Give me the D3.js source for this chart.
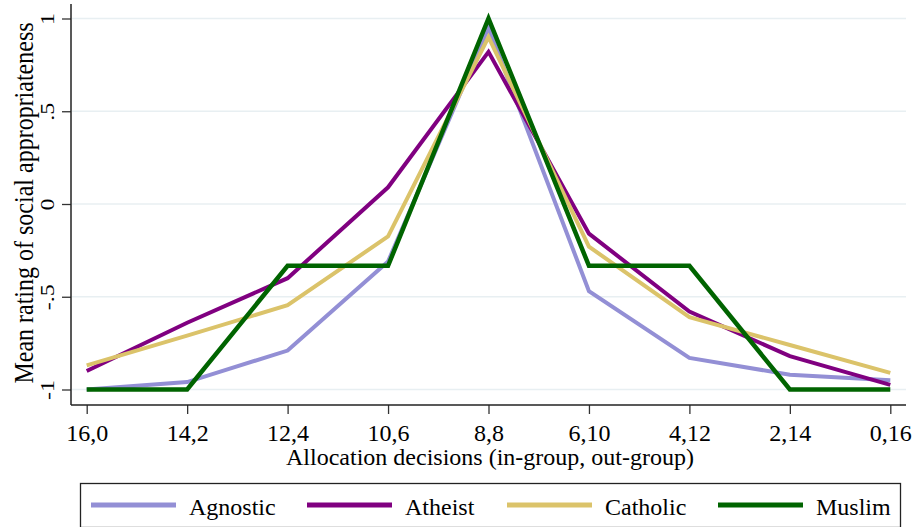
<!DOCTYPE html>
<html>
  <head>
    <title>Mean rating of social appropriateness</title>
    <script src="https://d3js.org/d3.v7.min.js"></script>
    <style>
      body { margin: 0; background: #fff; }
      text { font-family: "Liberation Serif", "DejaVu Serif", serif; fill: #000; }
    </style>
  </head>
  <body>
    <div id="chart"></div>
    <script>
      // Data
      var categories = ["16,0", "14,2", "12,4", "10,6", "8,8", "6,10", "4,12", "2,14", "0,16"];
      var yTicks = [-1, -0.5, 0, 0.5, 1];
      var yTickLabels = ["-1", "-.5", "0", ".5", "1"];
      var seriesNames = ["Agnostic", "Atheist", "Catholic", "Muslim"];
      var agnostic = [-1.0, -0.96, -0.79, -0.31, 0.95, -0.47, -0.83, -0.92, -0.95];
      var atheist = [-0.90, -0.64, -0.40, 0.09, 0.82, -0.16, -0.58, -0.82, -0.975];
      var catholic = [-0.87, -0.71, -0.545, -0.175, 0.90, -0.23, -0.61, -0.76, -0.91];
      var muslim = [-1, -1, -0.333, -0.333, 1, -0.333, -0.333, -1, -1];

      var series = [
        { name: seriesNames[0], values: agnostic, color: "#938fd5", width: 4 },
        { name: seriesNames[1], values: atheist, color: "#800080", width: 4 },
        { name: seriesNames[2], values: catholic, color: "#dbc36a", width: 4 },
        { name: seriesNames[3], values: muslim, color: "#006400", width: 4.5 }
      ];

      var svg = d3.select("#chart").append("svg")
        .attr("width", 915)
        .attr("height", 527);

      var xScale = d3.scalePoint()
        .domain(categories)
        .range([86.7, 890.3]);

      var yScale = d3.scaleLinear()
        .domain([-1, 1])
        .range([389.5, 18.5]);

      // gridlines
      svg.append("g")
        .selectAll("line")
        .data(yTicks)
        .enter()
        .append("line")
        .attr("x1", 72)
        .attr("x2", 906)
        .attr("y1", function(d) { return yScale(d); })
        .attr("y2", function(d) { return yScale(d); })
        .attr("stroke", "#e8eff2")
        .attr("stroke-width", 1.5);

      // y axis
      var yAxis = svg.append("g")
        .attr("transform", "translate(71,0)")
        .call(d3.axisLeft(yScale).tickValues(yTicks).tickSize(9).tickFormat(function(d, i) { return yTickLabels[i]; }));
      yAxis.select(".domain").remove();
      yAxis.append("line")
        .attr("x1", 0).attr("x2", 0)
        .attr("y1", 4).attr("y2", 405)
        .attr("stroke", "#222").attr("stroke-width", 1.5);
      yAxis.selectAll(".tick line").attr("stroke", "#333").attr("stroke-width", 1.3);
      yAxis.selectAll(".tick text")
        .attr("x", null).attr("dy", null)
        .attr("text-anchor", "middle")
        .attr("transform", "translate(-17,0) rotate(-90) scale(1,0.8)")
        .style("font-size", "24px")
        .style("font-family", "Liberation Serif");

      // x axis
      var xAxis = svg.append("g")
        .attr("transform", "translate(0,405)")
        .call(d3.axisBottom(xScale).tickSize(9).tickPadding(14));
      xAxis.select(".domain").remove();
      xAxis.append("line")
        .attr("x1", 71).attr("x2", 906)
        .attr("y1", 0).attr("y2", 0)
        .attr("stroke", "#222").attr("stroke-width", 1.5);
      xAxis.selectAll(".tick line").attr("stroke", "#333").attr("stroke-width", 1.3);
      xAxis.selectAll(".tick text")
        .attr("dy", null)
        .attr("y", 36)
        .style("font-size", "24px")
        .style("font-family", "Liberation Serif");

      // axis titles
      svg.append("text")
        .attr("x", 490)
        .attr("y", 465)
        .attr("text-anchor", "middle")
        .style("font-size", "24px")
        .text("Allocation decisions (in-group, out-group)");

      svg.append("text")
        .attr("transform", "translate(33,203) rotate(-90) scale(1,1.15)")
        .attr("text-anchor", "middle")
        .style("font-size", "24px")
        .text("Mean rating of social appropriateness");

      // lines
      var line = d3.line()
        .x(function(d, i) { return xScale(categories[i]); })
        .y(function(d) { return yScale(d); });

      svg.append("g")
        .selectAll("path")
        .data(series)
        .enter()
        .append("path")
        .attr("d", function(d) { return line(d.values); })
        .attr("fill", "none")
        .attr("stroke", function(d) { return d.color; })
        .attr("stroke-width", function(d) { return d.width; })
        .attr("stroke-linejoin", "miter");

      // legend
      var legend = svg.append("g");
      legend.append("rect")
        .attr("x", 80.5).attr("y", 483.5)
        .attr("width", 820).attr("height", 44)
        .attr("fill", "#fff")
        .attr("stroke", "#222").attr("stroke-width", 1.3);

      var keyX = [91, 307, 507, 718];
      var item = legend.selectAll(".item")
        .data(series)
        .enter()
        .append("g")
        .attr("class", "item")
        .attr("transform", function(d, i) { return "translate(" + keyX[i] + ",505)"; });
      item.append("line")
        .attr("x1", 0).attr("x2", 85)
        .attr("stroke", function(d) { return d.color; })
        .attr("stroke-width", 5);
      item.append("text")
        .attr("x", 98)
        .attr("y", 10)
        .style("font-size", "24px")
        .text(function(d) { return d.name; });
    </script>
  </body>
</html>
